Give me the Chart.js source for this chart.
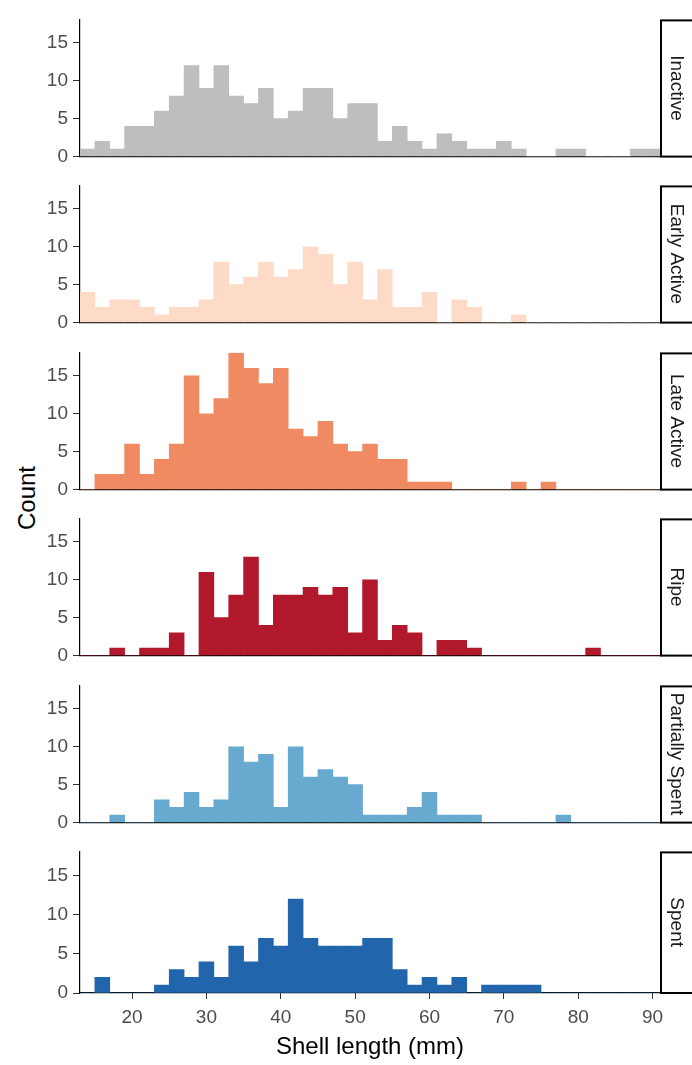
<!DOCTYPE html>
<html>
<head>
<meta charset="utf-8">
<title>Shell length by gonad stage</title>
<script src="https://cdn.jsdelivr.net/npm/chart.js@4.4.1/dist/chart.umd.min.js"></script>
<style>
  body { margin: 0; background: #fff; }
  #wrap { position: relative; width: 692px; height: 1065px; overflow: hidden; }
  .panel { position: absolute; left: 0; }
  #ylab {
    position: absolute; left: 27px; top: 498px;
    transform: translate(-50%, -50%) rotate(-90deg);
    font: 24px "Liberation Sans", Arial, sans-serif; color: #000; white-space: nowrap;
  }
</style>
</head>
<body>
<div id="wrap">
  <div id="ylab">Count</div>
</div>
<script>
// bins are 2 mm wide, centres below
const binCenters = [14, 16, 18, 20, 22, 24, 26, 28, 30, 32, 34, 36, 38, 40, 42, 44, 46, 48, 50, 52,
                    54, 56, 58, 60, 62, 64, 66, 68, 70, 72, 74, 76, 78, 80, 82, 84, 86, 88, 90];

const stages = ["Inactive", "Early Active", "Late Active", "Ripe", "Partially Spent", "Spent"];
const stageColors = ["#BEBEBE", "#FDDBC7", "#EF8A62", "#B2182B", "#67A9CF", "#2166AC"];

const inactive =       [1, 2, 1, 4, 4, 6, 8, 12, 9, 12, 8, 7, 9, 5, 6, 9, 9, 5, 7, 7, 2, 4, 2, 1, 3, 2, 1, 1, 2, 1, 0, 0, 1, 1, 0, 0, 0, 1, 1];
const earlyActive =    [4, 2, 3, 3, 2, 1, 2, 2, 3, 8, 5, 6, 8, 6, 7, 10, 9, 5, 8, 3, 7, 2, 2, 4, 0, 3, 2, 0, 0, 1, 0, 0, 0, 0, 0, 0, 0, 0, 0];
const lateActive =     [0, 2, 2, 6, 2, 4, 6, 15, 10, 12, 18, 16, 14, 16, 8, 7, 9, 6, 5, 6, 4, 4, 1, 1, 1, 0, 0, 0, 0, 1, 0, 1, 0, 0, 0, 0, 0, 0, 0];
const ripe =           [0, 0, 1, 0, 1, 1, 3, 0, 11, 5, 8, 13, 4, 8, 8, 9, 8, 9, 3, 10, 2, 4, 3, 0, 2, 2, 1, 0, 0, 0, 0, 0, 0, 0, 1, 0, 0, 0, 0];
const partiallySpent = [0, 0, 1, 0, 0, 3, 2, 4, 2, 3, 10, 8, 9, 2, 10, 6, 7, 6, 5, 1, 1, 1, 2, 4, 1, 1, 1, 0, 0, 0, 0, 0, 1, 0, 0, 0, 0, 0, 0];
const spent =          [0, 2, 0, 0, 0, 1, 3, 2, 4, 2, 6, 4, 7, 6, 12, 7, 6, 6, 6, 7, 7, 3, 1, 2, 1, 2, 0, 1, 1, 1, 1, 0, 0, 0, 0, 0, 0, 0, 0];
const stageCounts = [inactive, earlyActive, lateActive, ripe, partiallySpent, spent];

const xTicks = [20, 30, 40, 50, 60, 70, 80, 90];
const yTicks = [0, 5, 10, 15];

Chart.defaults.font.family = '"Liberation Sans", Arial, sans-serif';

// facet label box on the right side of each panel
const stripPlugin = {
  id: "strip",
  afterDraw(chart, args, opts) {
    const { ctx, chartArea: a } = chart;
    const h = a.bottom - a.top;
    ctx.save();
    ctx.fillStyle = "#fff";
    ctx.fillRect(a.right + 1, a.top + 1, 60, h - 1);
    ctx.strokeStyle = "#000";
    ctx.lineWidth = 2;
    ctx.strokeRect(a.right + 1, a.top + 1, 60, h - 1);
    ctx.translate(a.right + 16, a.top + h / 2);
    ctx.rotate(Math.PI / 2);
    ctx.fillStyle = "#1A1A1A";
    ctx.font = '19px "Liberation Sans", Arial, sans-serif';
    ctx.textAlign = "center";
    ctx.textBaseline = "middle";
    ctx.fillText(opts.label, 0, 0);
    ctx.restore();
  }
};

const plotTops = [9, 175, 342, 508, 675, 841];
const plotHeight = 152;
const padTop = 6;

stages.forEach((stage, i) => {
  const last = i === stages.length - 1;
  const axisH = last ? 72 : 12;
  const h = padTop + plotHeight + axisH;

  const div = document.createElement("div");
  div.className = "panel";
  div.style.top = (plotTops[i] - padTop) + "px";
  const canvas = document.createElement("canvas");
  canvas.width = 692;
  canvas.height = h;
  div.appendChild(canvas);
  document.getElementById("wrap").appendChild(div);

  new Chart(canvas, {
    type: "bar",
    data: {
      datasets: [{
        data: binCenters.map((x, k) => ({ x: x, y: stageCounts[i][k] })),
        backgroundColor: stageColors[i],
        borderWidth: 0,
        barPercentage: 1,
        categoryPercentage: 1
      }]
    },
    options: {
      responsive: false,
      animation: false,
      layout: { padding: { top: padTop, right: 32, left: 0, bottom: 0 } },
      plugins: {
        legend: { display: false },
        tooltip: { enabled: false },
        strip: { label: stage }
      },
      scales: {
        x: {
          type: "linear",
          min: 13,
          max: 91,
          offset: false,
          afterBuildTicks: s => { s.ticks = xTicks.map(v => ({ value: v })); },
          afterFit: s => { s.height = axisH; },
          grid: { display: last, drawOnChartArea: false, drawTicks: true, tickLength: 6, color: "#333", offset: false },
          border: { display: true, color: "#000", width: 1.2 },
          ticks: { display: last, color: "#4D4D4D", font: { size: 19 }, padding: 7, maxRotation: 0 },
          title: {
            display: last,
            text: "Shell length (mm)",
            color: "#000",
            font: { size: 24 },
            padding: { top: 0, bottom: 3 }
          }
        },
        y: {
          min: 0,
          max: 18.1,
          afterBuildTicks: s => { s.ticks = yTicks.map(v => ({ value: v })); },
          afterFit: s => { s.width = 80; },
          grid: { drawOnChartArea: false, drawTicks: true, tickLength: 7, color: "#333" },
          border: { display: true, color: "#000", width: 1.2 },
          ticks: { color: "#4D4D4D", font: { size: 19 }, padding: 5 }
        }
      }
    },
    plugins: [stripPlugin]
  });
});
</script>
</body>
</html>
